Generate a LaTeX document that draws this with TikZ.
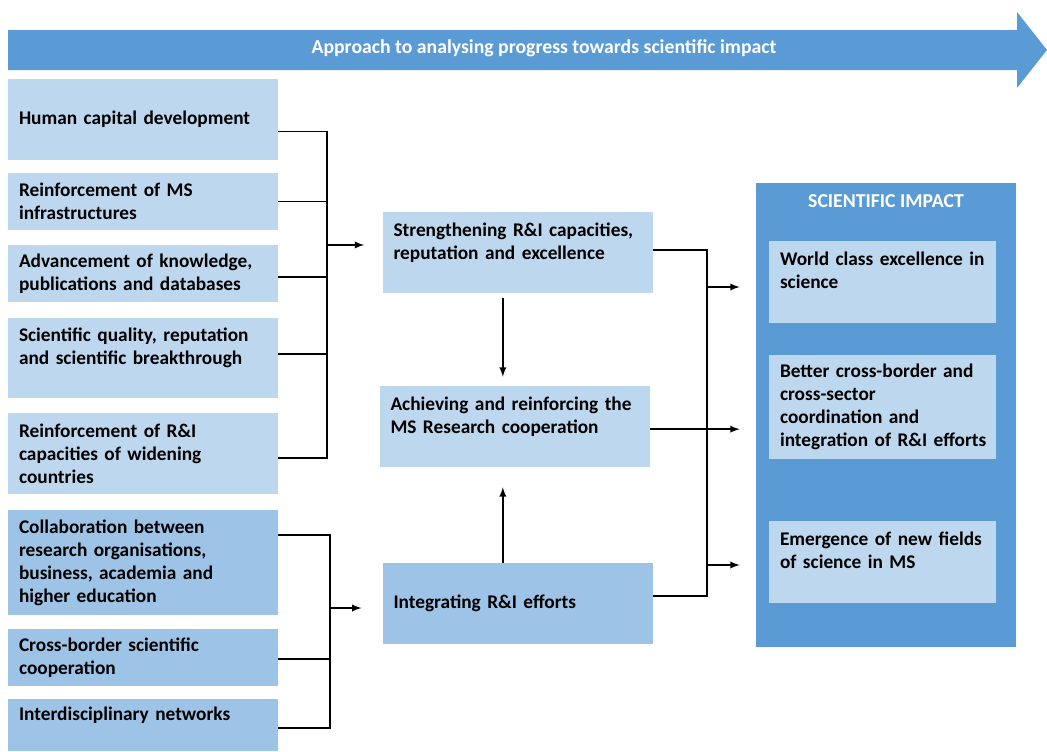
\documentclass[tikz,border=0pt]{standalone}
\usepackage{fontspec}
\setmainfont{Carlito}
\usepackage{xcolor}
\usetikzlibrary{arrows}
\definecolor{myblue}{RGB}{91,155,213}
\definecolor{mylight}{RGB}{189,215,238}
\definecolor{mymid}{RGB}{157,195,230}

\begin{document}
\begin{tikzpicture}[x=0.75pt, y=-0.75pt,
  lbox/.style={fill=mylight, minimum width=270*0.75pt, text width=248*0.75pt, align=left,
    inner xsep=11*0.75pt, inner ysep=0pt, font=\bfseries\fontsize{14.5}{17.3}\selectfont},
  mbox/.style={lbox, fill=mymid},
  rbox/.style={lbox, minimum width=227*0.75pt, text width=205*0.75pt},
  wtxt/.style={text=white, font=\bfseries\fontsize{14.8}{17}\selectfont},
  conn/.style={line width=1.4pt},
  arr/.style={conn, -latex}]
\useasboundingbox (0,0) rectangle (1047,751);

%%%%%%%%%% top arrow
\fill[myblue] (8,30) -- (1017,30) -- (1017,12) -- (1047,50) -- (1017,88) -- (1017,70) -- (8,70) -- cycle;
\node[wtxt] (head) at (544,48) {Approach to analysing progress towards scientific impact};

%%%%%%%%%% left column
\node[lbox, minimum height=81*0.75pt] (hcd) at (143,119.5) {Human capital development};
\node[lbox, minimum height=57*0.75pt] (inf) at (143,201.5) {Reinforcement of MS\\infrastructures};
\node[lbox, minimum height=57*0.75pt] (kno) at (143,273.5) {Advancement of knowledge,\\publications and databases};
\node[lbox, minimum height=80*0.75pt] (qua) at (143,358) {Scientific quality, reputation\\and scientific breakthrough\\~};
\node[lbox, minimum height=81*0.75pt] (wid) at (143,453.5) {Reinforcement of R\&I\\capacities of widening\\countries};
\node[mbox, minimum height=105*0.75pt] (col) at (143,562.5) {Collaboration between\\research organisations,\\business, academia and\\higher education};
\node[mbox, minimum height=57*0.75pt] (cbc) at (143,657.5) {Cross-border scientific\\cooperation};
\node[mbox, minimum height=52*0.75pt] (net) at (143,725) {Interdisciplinary networks\\~};

%%%%%%%%%% middle column
\node[lbox, minimum height=81*0.75pt] (str) at (517.5,252.5) {Strengthening R\&I capacities,\\reputation and excellence\\~};
\node[lbox, minimum height=81*0.75pt] (ach) at (514.5,426.5) {Achieving and reinforcing the\\MS Research cooperation\\~};
\node[mbox, minimum height=81*0.75pt] (int) at (517.5,603.5) {Integrating R\&I efforts};

%%%%%%%%%% scientific impact
\node[fill=myblue, minimum width=260*0.75pt, minimum height=464*0.75pt] (imp) at (886,415) {};
\node[wtxt] (imptitle) at (886,201) {SCIENTIFIC IMPACT};
\node[rbox, minimum height=82*0.75pt] (wce) at (882.5,282) {World class excellence in\\science\\~};
\node[rbox, minimum height=104*0.75pt] (cbs) at (882.5,407) {Better cross-border and\\cross-sector\\coordination and\\\mbox{integration of R\&I efforts}};
\node[rbox, minimum height=82*0.75pt] (emf) at (882.5,562) {Emergence of new fields\\of science in MS\\~};

%%%%%%%%%% brackets
\coordinate (j1) at (327,245);
\coordinate (j2) at (330,608);
\coordinate (k1) at (707,287);
\coordinate (k3) at (707,565);

\draw[conn] ([yshift=-9pt]hcd.east) -| (j1);
\draw[conn] (inf.east) -| (j1);
\draw[conn] ([yshift=-2.5pt]kno.east) -| (j1);
\draw[conn] ([yshift=3pt]qua.east) -| (j1);
\draw[conn] ([yshift=-3.5pt]wid.east) -| (j1);
\draw[arr] (j1) -- ([xshift=-13.5pt]str.west |- j1);

\draw[conn] ([yshift=20.5pt]col.east) -| (j2);
\draw[conn] ([yshift=-1pt]cbc.east) -| (j2);
\draw[conn] ([yshift=-2pt]net.east) -| (j2);
\draw[arr] (j2) -- ([xshift=-15.5pt]int.west |- j2);

\draw[conn] ([yshift=2pt]str.east) -| (k3);
\draw[conn] ([yshift=5.5pt]int.east) -| (k1);
\draw[arr] (k1) -- ([xshift=-12pt]imp.west |- k1);
\draw[arr] (k3) -- ([xshift=-12pt]imp.west |- k3);
\draw[arr] ([yshift=-2pt]ach.east) -- ([xshift=-12pt,yshift=-2pt]imp.west |- ach.east);

%%%%%%%%%% vertical arrows
\draw[arr, shorten <=3.75pt, shorten >=6.75pt] ([xshift=-11pt]str.south) -- ([xshift=-11pt]str.south |- ach.north);
\draw[arr, shorten >=15pt] ([xshift=-11pt]int.north) -- ([xshift=-11pt]int.north |- ach.south);
\end{tikzpicture}
\end{document}
